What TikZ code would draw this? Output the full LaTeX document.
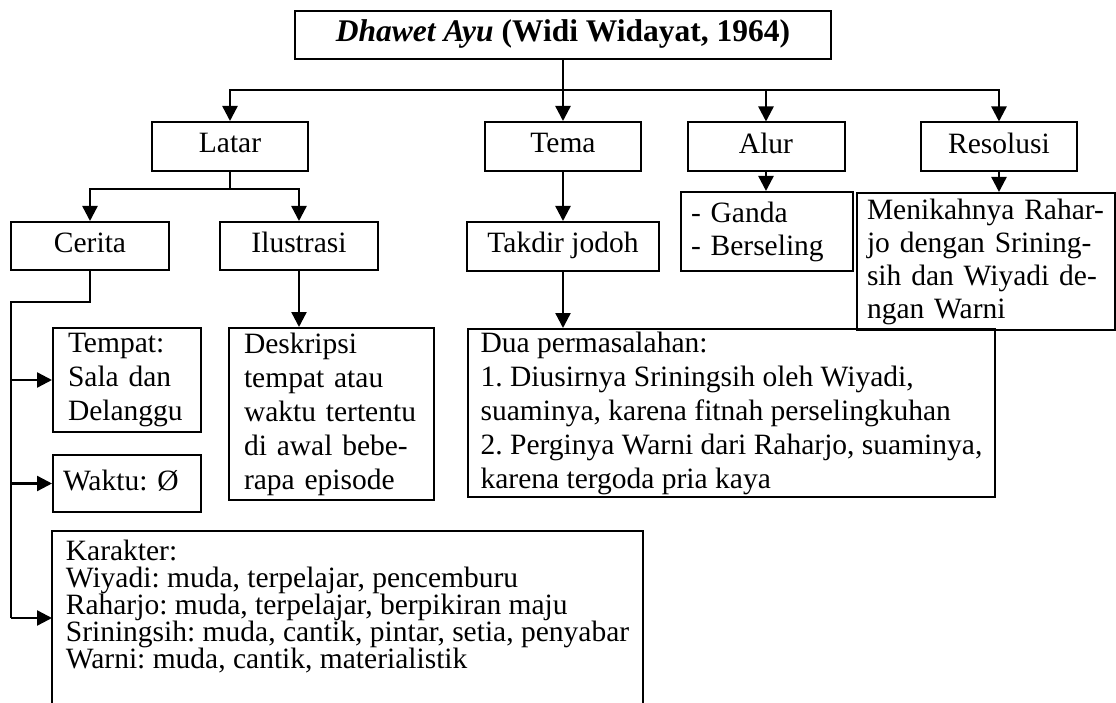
\documentclass[tikz,border=0pt]{standalone}
\usepackage{fontspec}
\setmainfont{Liberation Serif}
\usetikzlibrary{arrows.meta,positioning}
\frenchspacing

\begin{document}
\begin{tikzpicture}[x=1pt,y=-1pt,
  box/.style={draw, line width=2pt, inner sep=0pt, align=left, font=\fontsize{29.5}{34}\selectfont},
  single/.style={text height=20pt, text depth=7pt},
  conn/.style={line width=2.4pt},
  arr/.style={line width=2.4pt, -{Triangle[length=15pt,width=15pt]}}]

\useasboundingbox (0,0) rectangle (1116,703);

% judul
\node[box, single, minimum width=536pt, minimum height=48pt, font=\fontsize{31.5}{34}\selectfont\bfseries] (title) at (563,35) {\textit{Dhawet Ayu} (Widi Widayat, 1964)};

% baris pertama
\node[box, single, minimum width=156pt, minimum height=49pt] (latar) at (230,146.5) {Latar};
\node[box, single, minimum width=156pt, minimum height=49pt] (tema) at (563,146.5) {Tema};
\node[box, single, minimum width=157pt, minimum height=49pt] (alur) at (766,147) {Alur};
\node[box, single, minimum width=156pt, minimum height=49pt] (resolusi) at (999,147) {Resolusi};

% baris kedua
\node[box, single, minimum width=158pt, minimum height=48pt] (cerita) at (90,246) {Cerita};
\node[box, single, minimum width=158pt, minimum height=48pt] (ilustrasi) at (299,246) {Ilustrasi};
\node[box, single, minimum width=192pt, minimum height=49pt] (takdir) at (563,246.5) {Takdir jodoh};
\node[box, minimum width=172pt, minimum height=79pt, text width=152pt, font=\fontsize{29.5}{33}\selectfont] (ganda) at (767,231.5) {- Ganda\\- Berseling};
\node[box, minimum width=258pt, minimum height=137pt, text width=238pt, font=\fontsize{29.5}{33}\selectfont] (nikah) at (986,261.5) {Menikahnya Rahar-\\jo dengan Srining-\\sih dan Wiyadi de-\\ngan Warni};

% baris ketiga
\node[box, minimum width=148pt, minimum height=104pt, text width=118pt] (tempat) at (127,380) {Tempat:\\Sala dan\\Delanggu};
\node[box, single, minimum width=148pt, minimum height=57pt, text width=128pt] (waktu) at (127,483.5) {Waktu: Ø};
\node[box, minimum width=205pt, minimum height=172pt, text width=175pt] (deskripsi) at (331.5,414) {Deskripsi\\tempat atau\\waktu tertentu\\di awal bebe-\\rapa episode};
\node[box, minimum width=527pt, minimum height=168pt, font=\fontsize{29.5}{34}\selectfont] (masalah) at (731.5,413) {Dua permasalahan:\\1. Diusirnya Sriningsih oleh Wiyadi,\\suaminya, karena fitnah perselingkuhan\\2. Perginya Warni dari Raharjo, suaminya,\\karena tergoda pria kaya};

% karakter (terbuka di bawah)
\node[box, draw=none, minimum width=589pt, minimum height=150pt, font=\fontsize{29.5}{27}\selectfont] (karakter) at (347.5,607) {Karakter:\\Wiyadi: muda, terpelajar, pencemburu\\Raharjo: muda, terpelajar, berpikiran maju\\Sriningsih: muda, cantik, pintar, setia, penyabar\\Warni: muda, cantik, materialistik};
\coordinate (bawah) at (0,712);
\draw[line width=2pt] (karakter.west |- bawah) -- (karakter.north west) -- (karakter.north east) -- (karakter.east |- bawah);

% panah dari judul
\coordinate (bus) at (563,90);
\draw[arr] (title.south) -- (tema.north);
\draw[arr] (bus) -| (latar.north);
\draw[arr] (bus) -| (alur.north);
\draw[arr] (bus) -| (resolusi.north);

% panah dari latar
\coordinate (latarbus) at (230,189);
\draw[conn] (latar.south) -- (latarbus);
\draw[arr] (latarbus) -| (cerita.north);
\draw[arr] (latarbus) -| (ilustrasi.north);

\draw[arr] (tema.south) -- (takdir.north);
\draw[arr] (alur.south) -- (alur.south |- ganda.north);
\draw[arr] (resolusi.south) -- (resolusi.south |- nikah.north);
\draw[arr] (ilustrasi.south) -- (ilustrasi.south |- deskripsi.north);
\draw[arr] (takdir.south) -- (takdir.south |- masalah.north);

% cabang cerita
\coordinate (kiri) at (11,302);
\coordinate (kar) at (11,618);
\draw[conn] (cerita.south) |- (kiri) -- (kar);
\draw[arr] (kiri |- tempat.west) -- (tempat.west);
\draw[arr] (kiri |- waktu.west) -- (waktu.west);
\draw[arr] (kar) -- (kar -| karakter.west);

\end{tikzpicture}
\end{document}
